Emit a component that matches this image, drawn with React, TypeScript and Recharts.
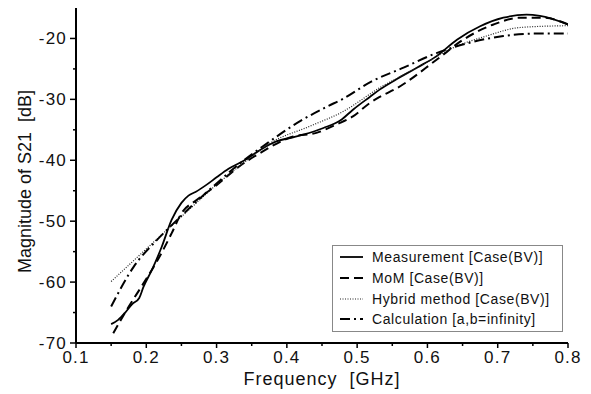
import React from 'react';
import { LineChart, Line, XAxis, YAxis, Legend } from 'recharts';

const measurementF = [0.15, 0.16, 0.17, 0.18, 0.19, 0.196, 0.208, 0.222, 0.236, 0.25, 0.26, 0.27, 0.286, 0.3, 0.317, 0.343, 0.362, 0.385, 0.41, 0.423, 0.452, 0.478, 0.494, 0.518, 0.532, 0.556, 0.585, 0.613, 0.642, 0.675, 0.708, 0.741, 0.76, 0.8];
const measurementV = [-66.9, -66.2, -65.0, -63.6, -62.6, -60.8, -58.0, -54.2, -49.8, -47.0, -45.8, -45.2, -44.0, -42.8, -41.4, -39.8, -38.3, -36.9, -36.2, -35.8, -34.7, -33.3, -31.7, -29.6, -28.4, -26.7, -24.8, -22.9, -20.2, -18.0, -16.6, -16.1, -16.3, -17.7];

const momF = [0.153, 0.172, 0.196, 0.219, 0.236, 0.25, 0.272, 0.3, 0.33, 0.362, 0.409, 0.442, 0.471, 0.494, 0.518, 0.532, 0.556, 0.613, 0.651, 0.694, 0.732, 0.765, 0.8];
const momV = [-68.4, -64.6, -60.2, -55.8, -52.0, -48.7, -46.5, -44.1, -41.2, -38.8, -36.1, -35.5, -34.1, -32.8, -30.6, -29.6, -28.2, -23.5, -20.2, -17.7, -16.6, -16.6, -17.7];

const hybridF = [0.15, 0.224, 0.26, 0.3, 0.34, 0.376, 0.433, 0.48, 0.532, 0.589, 0.637, 0.684, 0.732, 0.8];
const hybridV = [-59.9, -52.0, -48.2, -44.0, -40.3, -37.2, -34.4, -32.0, -28.1, -24.6, -21.5, -19.6, -18.2, -17.9];

const calcF = [0.15, 0.182, 0.215, 0.234, 0.26, 0.3, 0.33, 0.366, 0.42, 0.457, 0.48, 0.52, 0.566, 0.613, 0.66, 0.708, 0.755, 0.8];
const calcV = [-64.0, -57.5, -53.1, -50.9, -48.0, -43.8, -40.8, -37.7, -33.5, -31.2, -29.9, -27.1, -24.8, -22.4, -20.7, -19.6, -19.2, -19.2];

const xTicks = [0.1, 0.15, 0.2, 0.25, 0.3, 0.35, 0.4, 0.45, 0.5, 0.55, 0.6, 0.65, 0.7, 0.75, 0.8];
const xMajorLabels = ['0.1', '0.2', '0.3', '0.4', '0.5', '0.6', '0.7', '0.8'];
const yTicks = [-70, -65, -60, -55, -50, -45, -40, -35, -30, -25, -20];
const yMajor = [-70, -60, -50, -40, -30, -20];

const seriesNames = ['Measurement [Case(BV)]', 'MoM [Case(BV)]', 'Hybrid method [Case(BV)]', 'Calculation [a,b=infinity]'];

const zip = (f: number[], v: number[]) => f.map((x, i) => ({ f: x, v: v[i] }));
const measurementData = zip(measurementF, measurementV);
const momData = zip(momF, momV);
const hybridData = zip(hybridF, hybridV);
const calcData = zip(calcF, calcV);

const styles = [
  { stroke: '#000', width: 1.8, dash: undefined as string | undefined },
  { stroke: '#000', width: 2, dash: '9 5' },
  { stroke: '#222', width: 1.2, dash: '1 1.5' },
  { stroke: '#000', width: 2, dash: '10 4 2 4' },
];

const FONT = '"Liberation Sans", Arial, sans-serif';

const XTick = (props: any) => {
  const { x, y, payload } = props;
  const val = payload.value as number;
  const label = xMajorLabels.find((l) => Math.abs(parseFloat(l) - val) < 1e-6);
  return (
    <g>
      <line x1={x} y1={y} x2={x} y2={y + (label ? 5 : 3)} stroke="#000" strokeWidth={1.5} />
      {label && (
        <text x={x} y={y + 20} textAnchor="middle" fontSize={17} fill="#111" fontFamily={FONT} letterSpacing={1.2}>
          {label}
        </text>
      )}
    </g>
  );
};

const YTick = (props: any) => {
  const { x, y, payload } = props;
  const val = payload.value as number;
  const major = yMajor.includes(val);
  return (
    <g>
      <line x1={x} y1={y} x2={x - (major ? 6 : 3)} y2={y} stroke="#000" strokeWidth={1.5} />
      {major && (
        <text x={x - 9} y={y + 6} textAnchor="end" fontSize={17} fill="#111" fontFamily={FONT} letterSpacing={1.2}>
          {String(val)}
        </text>
      )}
    </g>
  );
};

const renderLegend = () => (
  <div
    style={{
      border: '1px solid #888',
      background: '#fff',
      padding: '1px 0',
      width: 229,
      boxSizing: 'content-box',
      fontFamily: FONT,
    }}
  >
    {seriesNames.map((name, i) => (
      <div key={name} style={{ height: 20.7, display: 'flex', alignItems: 'center' }}>
        <svg width={23} height={6} style={{ marginLeft: 7, marginRight: 9 }}>
          <line
            x1={0}
            y1={3}
            x2={23}
            y2={3}
            stroke={styles[i].stroke}
            strokeWidth={styles[i].width}
            strokeDasharray={styles[i].dash}
          />
        </svg>
        <span style={{ fontSize: 14, color: '#111', letterSpacing: 0.6, whiteSpace: 'nowrap' }}>{name}</span>
      </div>
    ))}
  </div>
);

export default function App() {
  const datasets = [measurementData, momData, hybridData, calcData];
  return (
    <div style={{ position: 'absolute', left: 0, top: 0, width: 591, height: 394, background: '#fff' }}>
      <LineChart width={591} height={394} margin={{ top: 8, right: 23, left: 0, bottom: 0 }}>
        <XAxis
          type="number"
          dataKey="f"
          domain={[0.1, 0.8]}
          ticks={xTicks}
          interval={0}
          tickSize={0}
          tickMargin={0}
          height={51}
          axisLine={{ stroke: '#000', strokeWidth: 2 }}
          tickLine={false}
          tick={<XTick />}
          allowDataOverflow
          label={{
            content: (p: any) => {
              const vb = p.viewBox;
              return (
                <text
                  x={vb.x + vb.width / 2}
                  y={vb.y + 42}
                  textAnchor="middle"
                  fontSize={18}
                  fill="#111"
                  fontFamily={FONT}
                  letterSpacing={1}
                  style={{ whiteSpace: 'pre' }}
                >
                  {'Frequency  [GHz]'}
                </text>
              );
            },
          }}
        />
        <YAxis
          type="number"
          domain={[-70, -15]}
          ticks={yTicks}
          interval={0}
          width={76}
          tickSize={0}
          tickMargin={0}
          axisLine={{ stroke: '#000', strokeWidth: 2 }}
          tickLine={false}
          tick={<YTick />}
          allowDataOverflow
          label={{
            content: (p: any) => {
              const vb = p.viewBox;
              const cx = vb.x + 25;
              const cy = vb.y + vb.height / 2 + 6;
              return (
                <text
                  x={cx}
                  y={cy}
                  transform={`rotate(-90 ${cx} ${cy})`}
                  textAnchor="middle"
                  dominantBaseline="central"
                  fontSize={18}
                  fill="#111"
                  fontFamily={FONT}
                  style={{ whiteSpace: 'pre' }}
                >
                  {'Magnitude of S21  [dB]'}
                </text>
              );
            },
          }}
        />
        <Legend
          layout="vertical"
          align="center"
          verticalAlign="middle"
          content={renderLegend}
          wrapperStyle={{ position: 'absolute', left: 332, top: 245, width: 231, height: 'auto' }}
        />
        {datasets.map((d, i) => (
          <Line
            key={seriesNames[i]}
            name={seriesNames[i]}
            data={d}
            dataKey="v"
            type="monotone"
            stroke={styles[i].stroke}
            strokeWidth={styles[i].width}
            strokeDasharray={styles[i].dash}
            dot={false}
            activeDot={false}
            isAnimationActive={false}
          />
        ))}
      </LineChart>
    </div>
  );
}
